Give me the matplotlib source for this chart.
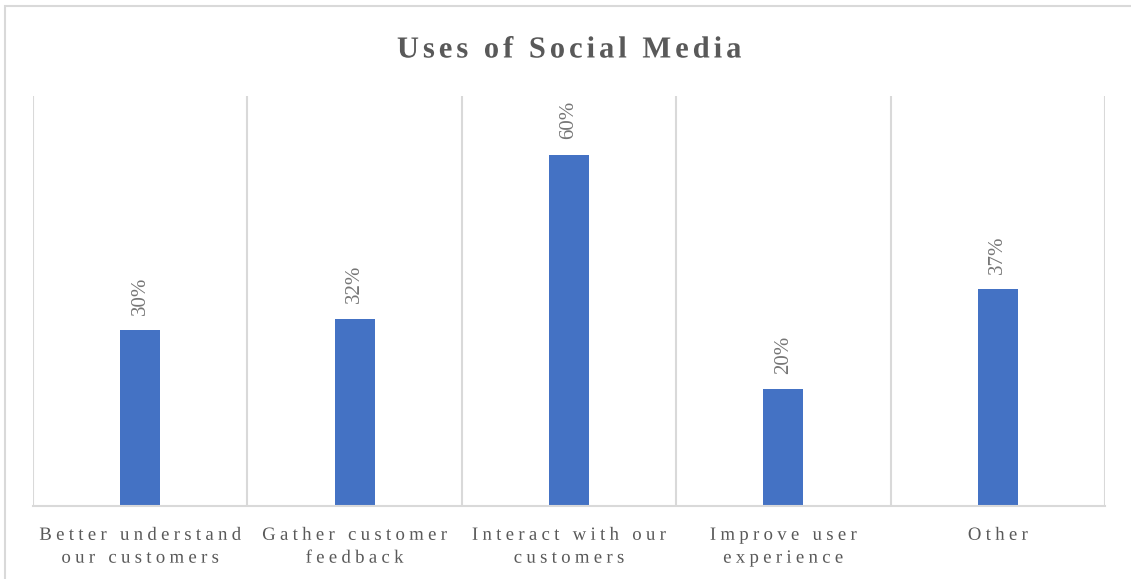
import numpy as np
import matplotlib
matplotlib.use("Agg")
import matplotlib.pyplot as plt
from matplotlib.patches import Rectangle
from matplotlib.patheffects import AbstractPathEffect
from matplotlib.path import Path

# Survey results
categories = ["Better understand\nour customers", "Gather customer\nfeedback",
              "Interact with our\ncustomers", "Improve user\nexperience", "Other"]
shares = [0.30, 0.32, 0.60, 0.20, 0.37]
value_labels = ["30%", "32%", "60%", "20%", "37%"]

bar_color = "#4472C4"
text_color = "#595959"
label_color = "#767676"
grid_color = "#D9D9D9"


class Tracking(AbstractPathEffect):
    """Spread the glyphs of a horizontal text line apart (letter spacing, in em)."""

    def __init__(self, em):
        super().__init__()
        self.em = em

    def draw_path(self, renderer, gc, tpath, affine, rgbFace=None):
        verts = tpath.vertices.copy()
        codes = tpath.codes
        if codes is None or len(verts) == 0:
            renderer.draw_path(gc, tpath, affine, rgbFace)
            return
        starts = list(np.flatnonzero(codes == Path.MOVETO)) + [len(codes)]
        keep = codes != Path.CLOSEPOLY
        contours = []
        for a, b in zip(starts[:-1], starts[1:]):
            xs = verts[a:b][keep[a:b], 0]
            contours.append((xs.min(), xs.max(), a, b))
        contours.sort()
        # glyph units: 100 per em; overlapping contours belong to the same glyph
        step = self.em * 100
        shift, xmax, moves = 0.0, None, []
        for x0, x1, a, b in contours:
            if xmax is not None and x0 >= xmax - 0.5:
                shift += step
                if x0 - xmax > 18:   # word gap -> the space gets its own step
                    shift += step
            xmax = x1 if xmax is None else max(xmax, x1)
            moves.append((a, b, shift))
        for a, b, s in moves:
            verts[a:b, 0] += s - shift / 2
        renderer.draw_path(gc, Path(verts, codes), affine, rgbFace)


plt.rcParams["font.family"] = ["Liberation Serif", "DejaVu Serif"]

fig = plt.figure(figsize=(11.31, 5.79), dpi=100)

# light frame around the whole chart
fig.patches.append(Rectangle((5 / 1131, -0.1), 1.2, 1.1 - 6 / 579,
                             transform=fig.transFigure, fill=False,
                             edgecolor=grid_color, linewidth=1.5, zorder=0))

ax = fig.add_axes([33 / 1131, 73 / 579, 1072 / 1131, 410 / 579])

x = range(len(categories))
bars = ax.bar(x, shares, width=0.186, color=bar_color, zorder=2)

ax.set_xlim(-0.5, len(categories) - 0.5)
ax.set_ylim(0, 0.70)

# vertical separators between categories
for b in [i - 0.5 for i in range(len(categories) + 1)]:
    ax.axvline(b, color=grid_color, linewidth=1.5, zorder=1)

for s in ["top", "right", "left"]:
    ax.spines[s].set_visible(False)
ax.spines["bottom"].set_color(grid_color)
ax.spines["bottom"].set_linewidth(1.5)

ax.set_yticks([])
ax.set_xticks(list(x))
ax.set_xticklabels(categories, fontsize=13.5, color=text_color, linespacing=1.45,
                   path_effects=[Tracking(0.23)])
ax.tick_params(axis="x", length=0, pad=15)

for rect, lab in zip(bars, value_labels):
    ax.annotate(lab, (rect.get_x() + rect.get_width() / 2, rect.get_height()),
                xytext=(0, 11), textcoords="offset points",
                rotation=90, ha="center", va="bottom",
                fontsize=15, color=label_color)

fig.text(0.503, 1 - 50 / 579, "Uses of Social Media", ha="center", va="center",
         fontsize=22, fontweight="bold", color=text_color,
         path_effects=[Tracking(0.13)])

fig.savefig("out.png", dpi=100)
